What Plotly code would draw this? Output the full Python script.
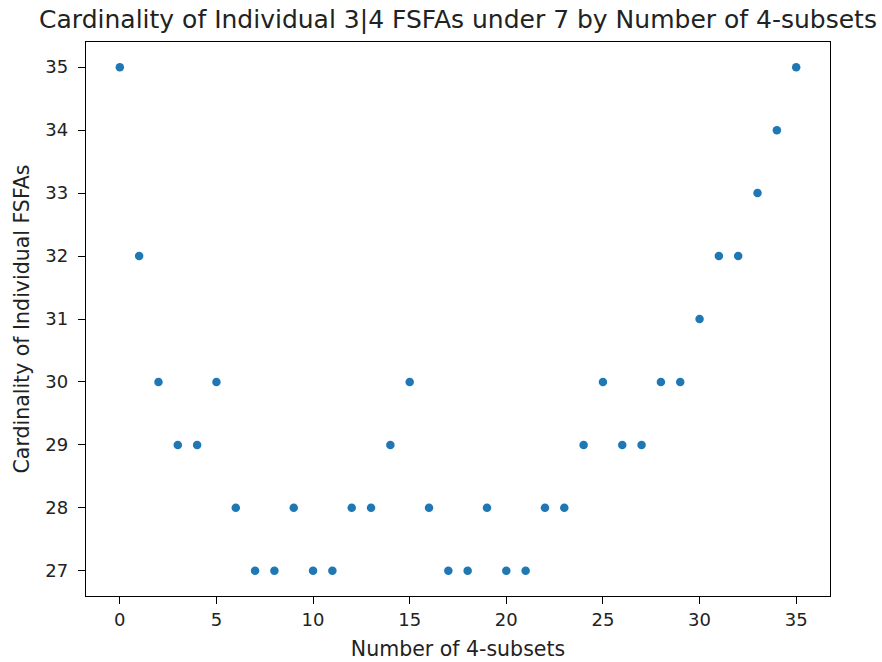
import plotly.graph_objects as go

x_vals = list(range(36))
y_vals = [35, 32, 30, 29, 29, 30, 28, 27, 27, 28, 27, 27, 28, 28, 29, 30, 28, 27,
          27, 28, 27, 27, 28, 28, 29, 30, 29, 29, 30, 30, 31, 32, 32, 33, 34, 35]
title = "Cardinality of Individual 3|4 FSFAs under 7 by Number of 4-subsets"
x_label = "Number of 4-subsets"
y_label = "Cardinality of Individual FSFAs"
x_ticks = [0, 5, 10, 15, 20, 25, 30, 35]
y_ticks = [27, 28, 29, 30, 31, 32, 33, 34, 35]

FONT = "DejaVu Sans"
fig = go.Figure(go.Scatter(x=x_vals, y=y_vals, mode="markers",
                           marker=dict(color="#1f77b4", size=8.5, line=dict(width=0))))

axis_common = dict(showline=True, linecolor="black", linewidth=1.3, mirror=True,
                   ticks="outside", ticklen=7, tickcolor="black", tickwidth=1.3,
                   showgrid=False, zeroline=False, automargin=False,
                   tickfont=dict(family=FONT, size=18, color="#222"))

fig.update_layout(
    width=882, height=662,
    margin=dict(l=86, r=52, t=42, b=66),
    paper_bgcolor="white", plot_bgcolor="white",
    title=dict(text=title, x=0.5, xref="paper", xanchor="center",
               y=1 - 19 / 662, yref="container", yanchor="middle",
               font=dict(family=FONT, size=25, color="#222")),
    xaxis=dict(range=[-1.75, 36.75], tickvals=x_ticks, ticklabelstandoff=0,
               title=dict(text=x_label, font=dict(family=FONT, size=20.5, color="#222"), standoff=12),
               **axis_common),
    yaxis=dict(range=[26.6, 35.4], tickvals=y_ticks, ticklabelstandoff=6,
               title=dict(text=y_label, font=dict(family=FONT, size=20.5, color="#222"), standoff=10),
               **axis_common),
    showlegend=False,
)

fig.write_html("out.html")
